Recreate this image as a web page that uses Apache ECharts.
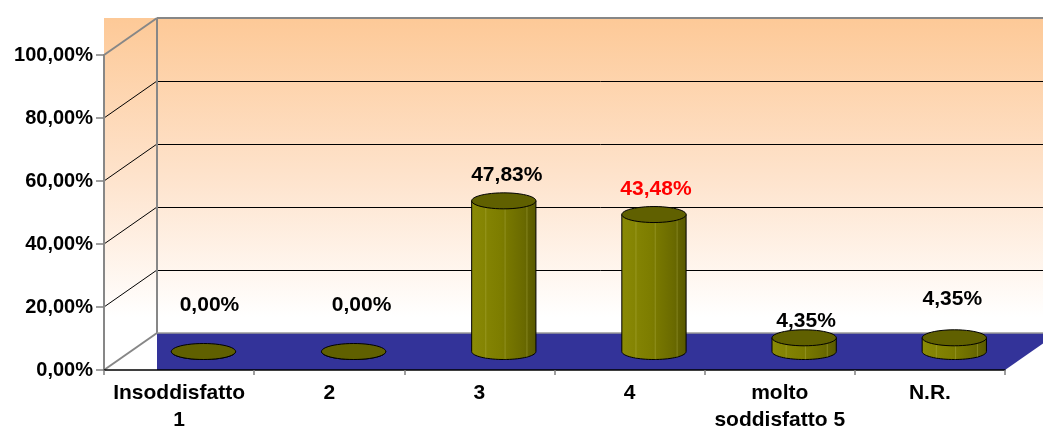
<!DOCTYPE html>
<html>
<head>
<meta charset="utf-8">
<title>Soddisfazione</title>
<script src="https://cdn.jsdelivr.net/npm/echarts@6/dist/echarts.min.js"></script>
<style>
  html, body { margin: 0; padding: 0; background: #ffffff; }
  #chart { width: 1043px; height: 435px; }
</style>
</head>
<body>
<div id="chart"></div>
<script>
// Response categories and share of answers (%)
const categories = ['Insoddisfatto\n1', '2', '3', '4', 'molto\nsoddisfatto 5', 'N.R.'];
const values = [0, 0, 47.83, 43.48, 4.35, 4.35];

// Value axis ticks
const yMin = 0;
const yMax = 100;
const yStep = 20;
const yTicks = [0, 20, 40, 60, 80, 100];

// Label colours per column (the fourth one is highlighted)
const labelColors = ['#000000', '#000000', '#000000', '#ff0000', '#000000', '#000000'];
// Hand-placed label nudges [dx, dy] relative to the cylinder top
const labelNudge = [[6, -38], [8, -38], [3, -18], [2, -17], [2, -9], [-2, -31]];

// Fake 3D depth of the plot box (back wall offset)
const DEPTH = { dx: 53, dy: -37 };
const FONT = '"Liberation Sans", Arial, sans-serif';

function fmtPct(v) {
  return v.toFixed(2).replace('.', ',') + '%';
}

// snap a coordinate onto the pixel grid so 1px lines stay crisp
function crisp(p) {
  return Math.round(p) + 0.5;
}

function ellipsePoints(cx, cy, rx, ry, t0, t1, n) {
  const pts = [];
  for (let k = 0; k <= n; k++) {
    const t = t0 + (t1 - t0) * k / n;
    pts.push([cx + rx * Math.cos(t), cy + ry * Math.sin(t)]);
  }
  return pts;
}

// Walls, floor and gridlines of the 3D box
function renderWalls(params, api) {
  const cs = params.coordSys;
  const left = cs.x;
  const right = cs.x + cs.width;
  const y0 = api.coord([0, yMin])[1];
  const yTop = api.coord([0, yMax])[1];
  const dx = DEPTH.dx, dy = DEPTH.dy;
  const edge = { stroke: '#878787', lineWidth: 2 };
  const grid = { stroke: '#000000', lineWidth: 1 };
  const children = [];

  children.push({
    type: 'rect',
    shape: { x: left, y: yTop + dy, width: cs.width + dx, height: y0 - (yTop + dy) },
    style: {
      fill: {
        type: 'linear', x: 0, y: 0, x2: 0, y2: 1,
        colorStops: [
          { offset: 0, color: '#fdc997' },
          { offset: 0.45, color: '#fee3cc' },
          { offset: 0.85, color: '#ffffff' },
          { offset: 1, color: '#ffffff' }
        ]
      }
    }
  });

  children.push({
    type: 'polygon',
    shape: { points: [[left + dx, y0 + dy], [right + dx, y0 + dy], [right, y0], [left + dx, y0]] },
    style: { fill: '#333399' }
  });

  yTicks.forEach(function (v) {
    if (v <= yMin || v >= yMax) return;
    const y = api.coord([0, v])[1];
    children.push({
      type: 'line',
      shape: { x1: left + dx, y1: crisp(y + dy), x2: right + dx, y2: crisp(y + dy) },
      style: grid
    });
    children.push({
      type: 'line',
      shape: { x1: left, y1: y, x2: left + dx, y2: y + dy },
      style: grid
    });
  });

  // box edges
  children.push({ type: 'line', shape: { x1: left, y1: yTop, x2: left + dx, y2: yTop + dy }, style: edge });
  children.push({ type: 'line', shape: { x1: left, y1: y0, x2: left + dx, y2: y0 + dy }, style: edge });
  children.push({ type: 'line', shape: { x1: left + dx, y1: yTop + dy, x2: right + dx, y2: yTop + dy }, style: edge });
  children.push({ type: 'line', shape: { x1: left + dx, y1: yTop + dy, x2: left + dx, y2: y0 + dy }, style: edge });
  children.push({ type: 'line', shape: { x1: left + dx, y1: y0 + dy, x2: right + dx, y2: y0 + dy }, style: { stroke: '#9a9a9a', lineWidth: 1.5 } });

  return { type: 'group', children: children, silent: true };
}

// One cylinder per category, standing mid-depth on the floor
function renderCylinder(params, api) {
  const i = api.value(0);
  const v = api.value(1);
  const base = api.coord([i, 0]);
  const top = api.coord([i, v]);
  const band = api.size([1, 0])[0];
  const rx = band * 0.214;
  const ry = 8;
  const cx = base[0] + DEPTH.dx * 0.46;
  const yb = base[1] + DEPTH.dy * 0.5;
  const yt = top[1] + DEPTH.dy * 0.5;
  const children = [];

  const body = [[cx - rx, yt]]
    .concat(ellipsePoints(cx, yb, rx, ry, Math.PI, 0, 36))
    .concat([[cx + rx, yt]]);
  children.push({
    type: 'polygon',
    shape: { points: body },
    style: {
      fill: {
        type: 'linear', x: 0, y: 0, x2: 1, y2: 0,
        colorStops: [
          { offset: 0, color: '#8a8a06' },
          { offset: 0.45, color: '#7d7d00' },
          { offset: 0.8, color: '#6a6a00' },
          { offset: 1, color: '#585800' }
        ]
      },
      stroke: '#000000',
      lineWidth: 1
    }
  });

  if (yb - yt > 3) {
    [0.22, 0.52, 0.86].forEach(function (f) {
      const x = cx - rx + 2 * rx * f;
      const t = Math.acos((x - cx) / rx);
      children.push({
        type: 'line',
        shape: { x1: x, y1: yt + ry * Math.sin(t), x2: x, y2: yb + ry * Math.sin(t) },
        style: { stroke: 'rgba(190,190,90,0.35)', lineWidth: 1 }
      });
    });
  }

  children.push({
    type: 'polygon',
    shape: { points: ellipsePoints(cx, yt, rx, ry, 0, Math.PI * 2, 48) },
    style: { fill: '#606000', stroke: '#000000', lineWidth: 1 }
  });

  const nudge = labelNudge[i];
  children.push({
    type: 'text',
    style: {
      text: fmtPct(v),
      x: cx + nudge[0],
      y: yt - ry + nudge[1],
      fill: labelColors[i],
      font: 'bold 21px ' + FONT,
      align: 'center',
      verticalAlign: 'middle'
    }
  });

  return { type: 'group', children: children };
}

const chart = echarts.init(document.getElementById('chart'), null, { renderer: 'canvas' });

chart.setOption({
  animation: false,
  backgroundColor: '#ffffff',
  grid: { left: 104, right: 38, top: 55, bottom: 65 },
  xAxis: {
    type: 'category',
    data: categories,
    boundaryGap: true,
    axisLine: { show: true, lineStyle: { color: '#000000', width: 1.5 } },
    axisTick: { show: true, length: 5, alignWithLabel: false, lineStyle: { color: '#808080', width: 1.5 } },
    axisLabel: {
      interval: 0,
      margin: 10,
      color: '#000000',
      fontFamily: FONT,
      fontWeight: 'bold',
      fontSize: 21,
      lineHeight: 27
    },
    splitLine: { show: false }
  },
  yAxis: {
    type: 'value',
    min: yMin,
    max: yMax,
    interval: yStep,
    axisLine: { show: true, lineStyle: { color: '#878787', width: 2 } },
    axisTick: { show: true, length: 8, lineStyle: { color: '#808080', width: 1.5 } },
    axisLabel: {
      margin: 11,
      color: '#000000',
      fontFamily: FONT,
      fontWeight: 'bold',
      fontSize: 20,
      formatter: function (v) { return fmtPct(v); }
    },
    splitLine: { show: false }
  },
  series: [
    {
      type: 'custom',
      name: 'box',
      z: -1,
      silent: true,
      renderItem: renderWalls,
      data: [[0, 0]]
    },
    {
      type: 'custom',
      name: 'risposte',
      z: 2,
      renderItem: renderCylinder,
      encode: { x: 0, y: 1 },
      data: values.map(function (v, i) { return [i, v]; })
    }
  ]
});
</script>
</body>
</html>
